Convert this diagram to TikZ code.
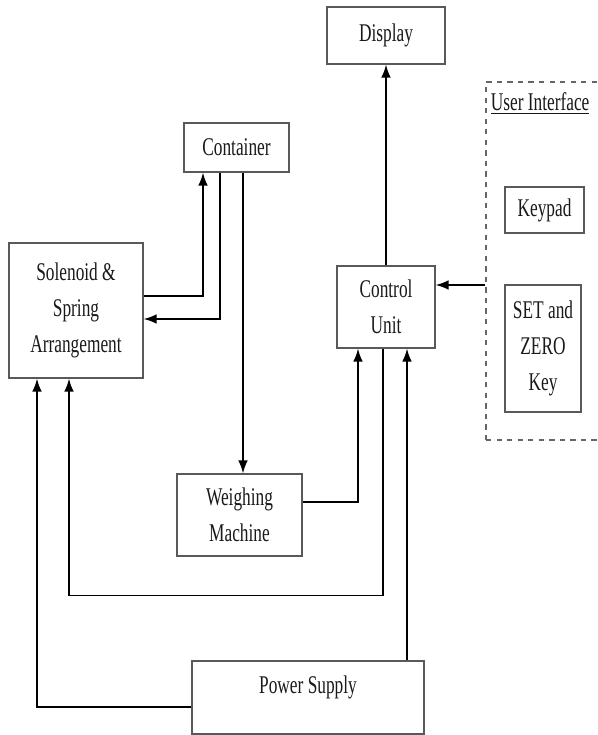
\documentclass[tikz,border=0pt]{standalone}
\usepackage{fontspec}
\setmainfont{Liberation Serif}[FakeStretch=0.68]
\usetikzlibrary{arrows.meta}
\usetikzlibrary{positioning}

\tikzset{
  blockbox/.style={rectangle,draw=black!65,line width=0.6pt,align=center,text=black!90,
    font=\fontsize{14.5}{20.5}\selectfont},
  flow/.style={-{Latex[length=2.6mm,width=1.9mm]},line width=0.9pt,black}
}

\begin{document}
\begin{tikzpicture}
	\useasboundingbox (0,0) rectangle (11.96,-14.7);
	% blocs
	\node (DISP) at (7.72,-0.71) [blockbox,minimum width=2.36cm,minimum height=1.14cm] {Display};
	\node (CONT) at (4.73,-2.95) [blockbox,minimum width=2.1cm,minimum height=0.98cm] {Container};
	\node (SOL) at (1.52,-6.21) [blockbox,minimum width=2.68cm,minimum height=2.7cm] {Solenoid \&\\Spring\\Arrangement};
	\node (CU) at (7.72,-6.14) [blockbox,minimum width=1.96cm,minimum height=1.64cm] {Control\\Unit};
	\node (WM) at (4.79,-10.3) [blockbox,minimum width=2.5cm,minimum height=1.64cm] {Weighing\\Machine};
	\node (PS) at (6.16,-13.95) [blockbox,inner sep=0pt,minimum width=4.64cm,text height=0.64cm,text depth=0.82cm] {Power Supply};
	% interface utilisateur
	\node (UI) at (10.91,-5.22) [rectangle,draw=black!60,dashed,line width=0.6pt,minimum width=2.38cm,minimum height=7.16cm] {};
	\node (UITXT) [anchor=north west,text=black!90,font=\fontsize{14.5}{20.5}\selectfont,inner sep=0pt] at ([xshift=0.1cm,yshift=-0.22cm]UI.north west) {\underline{User Interface}};
	\node (KEY) at (10.89,-4.2) [blockbox,minimum width=1.58cm,minimum height=0.92cm] {Keypad};
	\node (SETZ) at (10.86,-6.97) [blockbox,minimum width=1.52cm,minimum height=2.54cm] {SET and\\ZERO\\Key};
	% liaisons
	\draw[flow] ([yshift=0.29cm]SOL.east) -| ([xshift=-0.67cm]CONT.south);
	\draw[flow] ([xshift=-0.33cm]CONT.south) |- ([yshift=-0.17cm]SOL.east);
	\draw[flow] ([xshift=0.13cm]CONT.south) -- ([xshift=0.13cm]CONT.south |- WM.north);
	\draw[flow] ([yshift=0.26cm]WM.east) -| ([xshift=-0.56cm]CU.south);
	\draw[flow] ([xshift=-0.06cm]CU.south) -- ++(0,-4.94) -| ([xshift=-0.14cm]SOL.south);
	\draw[flow] ([xshift=0.42cm]CU.south |- PS.north) -- ([xshift=0.42cm]CU.south);
	\draw[flow] ([yshift=-0.19cm]PS.west) -| ([xshift=-0.78cm]SOL.south);
	\draw[flow] (CU.north) -- (DISP.south);
	\draw[flow] ([yshift=0.44cm]CU.east -| UI.west) -- ([yshift=0.44cm]CU.east);
\end{tikzpicture}
\end{document}
